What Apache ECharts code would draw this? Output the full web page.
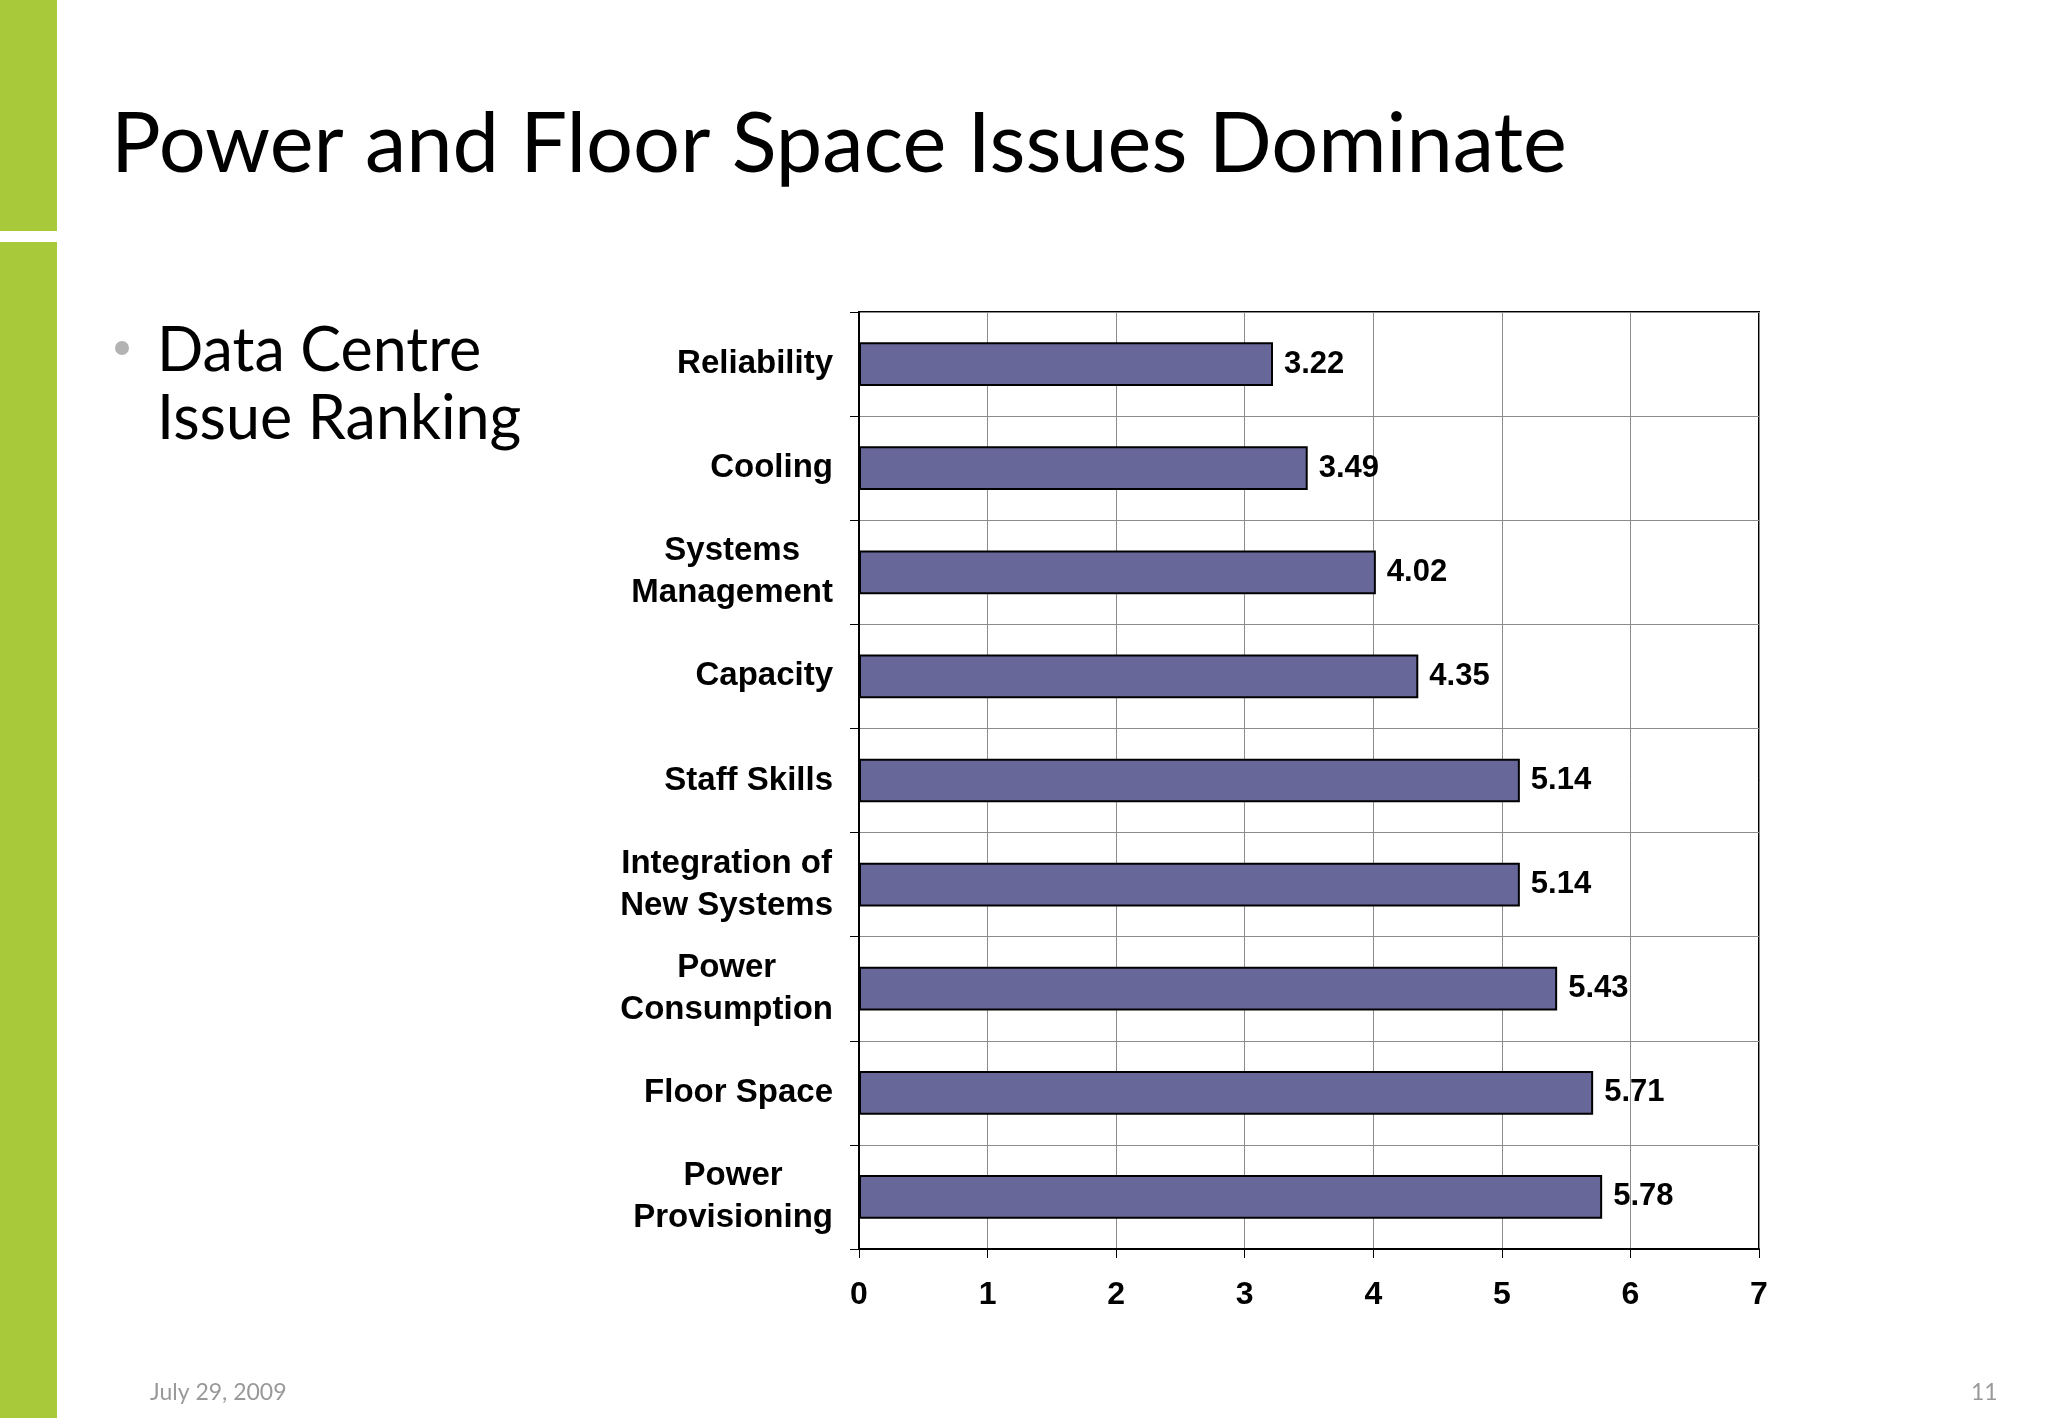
<!DOCTYPE html>
<html>
<head>
<meta charset="utf-8">
<script src="https://cdn.jsdelivr.net/npm/echarts@6/dist/echarts.min.js"></script>
<style>
html,body{margin:0;padding:0;background:#fff;}
#chart{width:2048px;height:1418px;}
</style>
</head>
<body>
<div id="chart"></div>
<script>
const categories = ['Reliability', 'Cooling', 'Systems\nManagement', 'Capacity', 'Staff Skills', 'Integration of\nNew Systems', 'Power\nConsumption', 'Floor Space', 'Power\nProvisioning'];
const values = [3.22, 3.49, 4.02, 4.35, 5.14, 5.14, 5.43, 5.71, 5.78];
const xTicks = [0, 1, 2, 3, 4, 5, 6, 7];
const titleText = 'Power and Floor Space Issues Dominate';
const bulletLines = ['Data Centre', 'Issue Ranking'];
const footerDate = 'July 29, 2009';
const pageNo = '11';

const chart = echarts.init(document.getElementById('chart'), null, {renderer: 'canvas'});
const labelFont = '"Liberation Sans", Arial, sans-serif';
const slideFont = 'Lato, "Open Sans", sans-serif';

chart.setOption({
  animation: false,
  backgroundColor: '#ffffff',
  grid: {left: 859, right: 289, top: 312, bottom: 169, show: true, borderColor: '#000', borderWidth: 2, containLabel: false},
  xAxis: {
    type: 'value', min: xTicks[0], max: xTicks[xTicks.length - 1], interval: 1,
    axisLine: {show: true, lineStyle: {color: '#000', width: 2}},
    axisTick: {show: true, length: 9, lineStyle: {color: '#000'}},
    splitLine: {show: true, lineStyle: {color: '#8c8c8c', width: 1}},
    axisLabel: {margin: 30, fontFamily: labelFont, fontWeight: 'bold', fontSize: 32, color: '#000'}
  },
  yAxis: {
    type: 'category', data: categories, inverse: true,
    axisLine: {show: true, lineStyle: {color: '#000', width: 2}},
    axisTick: {show: true, length: 9, lineStyle: {color: '#000'}},
    splitLine: {show: true, lineStyle: {color: '#8c8c8c', width: 1}},
    axisLabel: {
      margin: 26, align: 'right', fontFamily: labelFont, fontWeight: 'bold', fontSize: 33, color: '#000', lineHeight: 42,
      formatter: v => v.split('\n').map(s => '{c|' + s + '}').join('\n'),
      rich: {c: {align: 'center', fontFamily: labelFont, fontWeight: 'bold', fontSize: 33, color: '#000', lineHeight: 42}}
    }
  },
  series: [{
    type: 'bar', data: values, barWidth: '42%',
    itemStyle: {color: '#68679a', borderColor: '#000', borderWidth: 2},
    label: {show: true, position: 'right', distance: 11, fontFamily: labelFont, fontWeight: 'bold', fontSize: 31, color: '#000', formatter: p => p.value.toFixed(2)}
  }],
  graphic: [
    {type: 'rect', left: 0, top: 0, shape: {width: 57, height: 231}, style: {fill: '#a7c93a'}},
    {type: 'rect', left: 0, top: 242, shape: {width: 57, height: 1176}, style: {fill: '#a7c93a'}},
    {type: 'text', left: 111, top: 104, style: {text: titleText, font: '400 83px ' + slideFont, fill: '#000'}},
    {type: 'circle', shape: {cx: 122, cy: 348, r: 7}, style: {fill: '#b3b3b3'}},
    {type: 'text', left: 157, top: 317, style: {text: bulletLines.join('\n'), font: '400 61px ' + slideFont, lineHeight: 68, fill: '#000'}},
    {type: 'text', left: 150, top: 1381, style: {text: footerDate, font: '400 23px ' + slideFont, fill: '#999999'}},
    {type: 'text', left: 1971, top: 1381, style: {text: pageNo, font: '400 23px ' + slideFont, fill: '#999999'}}
  ]
});
</script>
</body>
</html>
